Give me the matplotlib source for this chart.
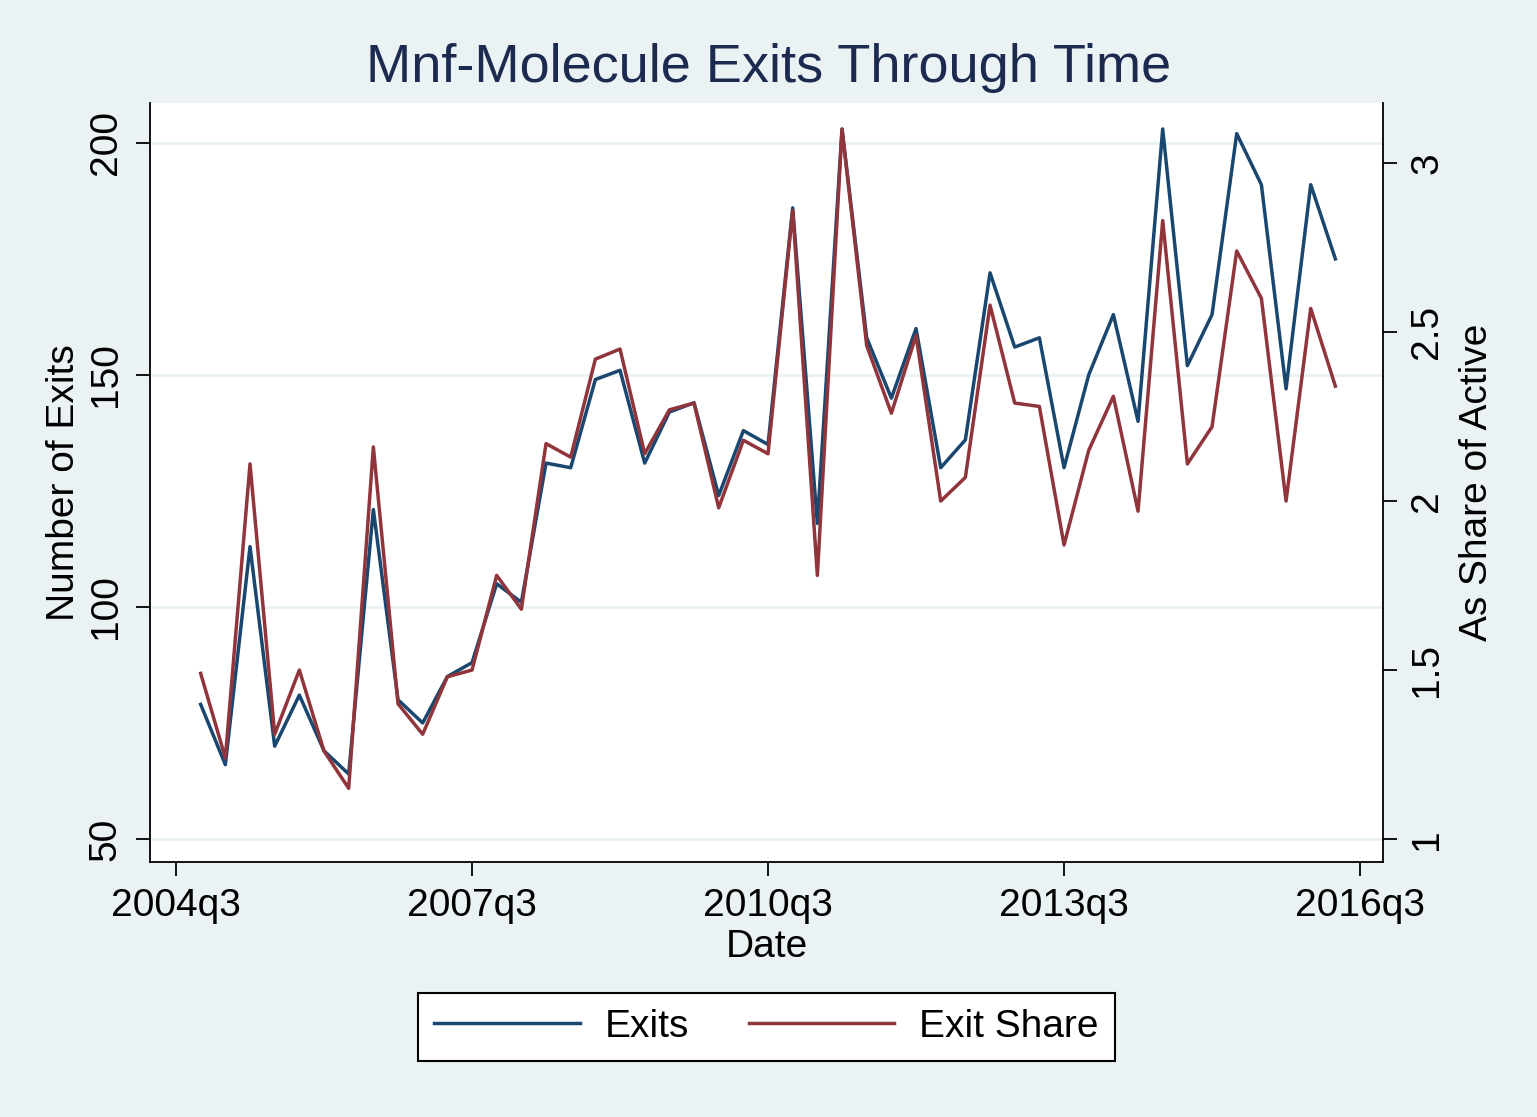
import matplotlib
matplotlib.use('Agg')
import matplotlib.pyplot as plt

plt.rcParams['font.family'] = ['Liberation Sans', 'DejaVu Sans']

# quarterly data, 2004q4 .. 2016q2 (quarter index: 2004q3 = 0)
quarters = list(range(1, 48))
exits = [79, 66, 113, 70, 81, 69, 64, 121, 80, 75, 85, 88, 105, 101, 131, 130,
         149, 151, 131, 142, 144, 124, 138, 135, 186, 118, 203, 158, 145, 160,
         130, 136, 172, 156, 158, 130, 150, 163, 140, 203, 152, 163, 202, 191,
         147, 191, 175]
exit_share = [1.49, 1.24, 2.11, 1.31, 1.50, 1.26, 1.15, 2.16, 1.40, 1.31, 1.48,
              1.50, 1.78, 1.68, 2.17, 2.13, 2.42, 2.45, 2.14, 2.27, 2.29, 1.98,
              2.18, 2.14, 2.86, 1.78, 3.10, 2.46, 2.26, 2.49, 2.00, 2.07, 2.58,
              2.29, 2.28, 1.87, 2.15, 2.31, 1.97, 2.83, 2.11, 2.22, 2.74, 2.60,
              2.00, 2.57, 2.34]
xtick_pos = [0, 12, 24, 36, 48]
xtick_labels = ['2004q3', '2007q3', '2010q3', '2013q3', '2016q3']

bg = '#EAF2F3'
navy = '#1A476F'
maroon = '#90353B'

fig = plt.figure(figsize=(15.37, 11.17), dpi=100, facecolor=bg)
ax = fig.add_axes([0.0976, 0.2283, 0.8022, 0.6795])
ax.set_facecolor('white')
ax2 = ax.twinx()

l1, = ax.plot(quarters, exits, color=navy, lw=2.5)
l2, = ax2.plot(quarters, exit_share, color=maroon, lw=2.5)

ax.set_xlim(-1.054, 48.93)
ax.set_ylim(45.04, 208.6)
ax2.set_ylim(0.932, 3.178)

ax.set_yticks([50, 100, 150, 200])
ax.set_yticklabels(['50', '100', '150', '200'], rotation=90, va='center')
ax2.set_yticks([1, 1.5, 2, 2.5, 3])
ax2.set_yticklabels(['1', '1.5', '2', '2.5', '3'], rotation=90, va='center')
ax.set_xticks(xtick_pos)
ax.set_xticklabels(xtick_labels)

ax.grid(axis='y', color=bg, lw=2.2)
ax.set_axisbelow(True)

for a in (ax, ax2):
    a.spines['top'].set_visible(False)
    for s in a.spines.values():
        s.set_linewidth(1.3)
    a.tick_params(labelsize=28, length=10, width=1.3, pad=9)
ax.spines['right'].set_visible(False)
ax2.spines['left'].set_visible(False)
ax2.spines['bottom'].set_visible(False)

ax.set_xlabel('Date', fontsize=28, labelpad=3)
ax.set_ylabel('Number of Exits', fontsize=28, labelpad=4)
ax2.set_ylabel('As Share of Active', fontsize=28, labelpad=10, rotation=90)

fig.text(0.5, 0.939, 'Mnf-Molecule Exits Through Time', ha='center',
         va='center', fontsize=39, color='#1C2A50')

leg = fig.legend([l1, l2], ['Exits', 'Exit Share'], loc='center',
                 bbox_to_anchor=(0.4987, 0.0806), ncol=2, fontsize=28,
                 frameon=True, fancybox=False, edgecolor='black',
                 facecolor='white', framealpha=1,
                 handlelength=3.73, columnspacing=1.55, handletextpad=0.64,
                 borderpad=0.42)
leg.get_frame().set_linewidth(1.5)

fig.savefig('out.png', dpi=100, facecolor=bg)
